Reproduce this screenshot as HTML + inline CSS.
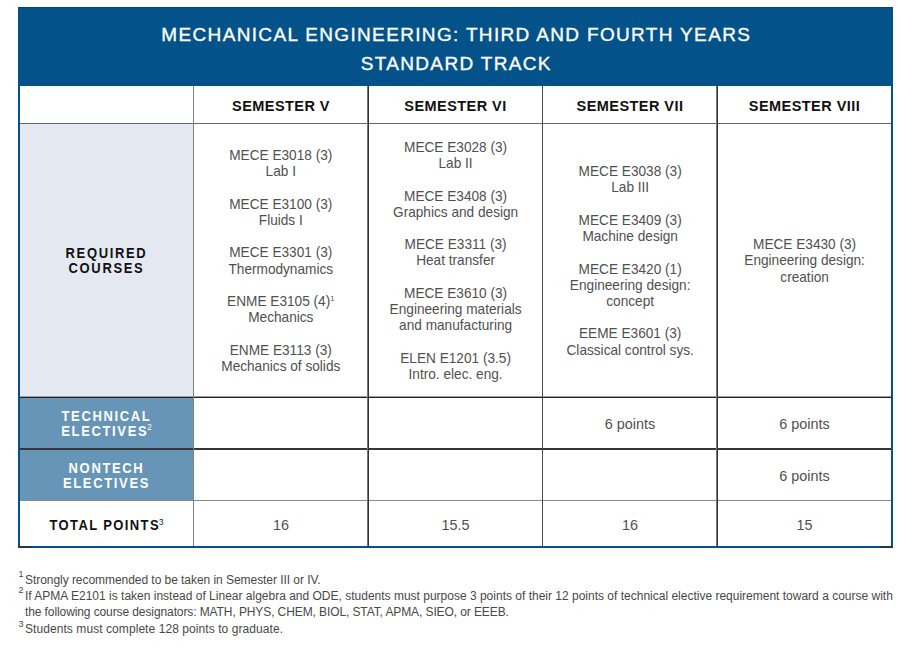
<!DOCTYPE html>
<html>
<head>
<meta charset="utf-8">
<style>
*{margin:0;padding:0;box-sizing:border-box}
html,body{width:900px;height:657px;background:#fff;overflow:hidden}
body{font-family:"Liberation Sans",sans-serif;position:relative;color:#3a3a3a}
.abs{position:absolute}
#frame{left:18px;top:7px;width:875px;height:541px;border:2px solid #03518a;border-top:0}
#head{left:18px;top:7px;width:875px;height:79px;background:#03528a}
.title{position:absolute;left:0.8px;width:100%;text-align:center;color:#fff;font-size:19px;letter-spacing:1.34px;white-space:nowrap;-webkit-text-stroke:0.35px #fff;line-height:20px}
.vl{position:absolute;width:1px;background:#333;top:86px;height:460px}
.hl{position:absolute;height:1px;background:#333;left:20px;width:871px}
.cell{position:absolute;display:flex;align-items:center;justify-content:center;text-align:center}
.sem{font-weight:bold;font-size:14.5px;color:#111;letter-spacing:0.45px}
.body{font-size:14.4px;line-height:16.2px;color:#505050}
.body>div{transform:scaleX(0.948)}
.lbl{font-weight:bold;font-size:13px;line-height:13.55px;letter-spacing:1.65px}
.lbl>div{transform:scaleY(1.07)}
.s{margin-left:-1px;font-size:8px;font-weight:normal;vertical-align:5px;line-height:0;letter-spacing:0}
.fn{position:absolute;left:25px;font-size:12px;color:#484848;white-space:nowrap;line-height:16px}
.fn sup{position:absolute;left:-6.5px;top:-5.5px;font-size:9px}
</style>
</head>
<body>
<div id="head" class="abs">
  <div class="title" style="top:18.4px">MECHANICAL ENGINEERING: THIRD AND FOURTH YEARS</div>
  <div class="title" style="top:47.2px">STANDARD TRACK</div>
</div>
<!-- left column backgrounds -->
<div class="abs" style="left:20px;top:124px;width:173px;height:273px;background:#e5e9f2"></div>
<div class="abs" style="left:20px;top:398px;width:173px;height:102px;background:#6795b7"></div>

<div id="frame" class="abs"></div>

<div class="abs" style="left:18px;top:7px;width:875px;height:1px;background:#0b4472"></div>
<div class="abs" style="left:18px;top:546px;width:14px;height:2px;background:#24384c"></div>
<div class="abs" style="left:880px;top:546px;width:13px;height:2px;background:#24384c"></div>
<!-- grid lines -->
<div class="hl" style="top:123px;background:#666"></div>
<div class="hl" style="top:396px;background:#a0a0a0"></div>
<div class="hl" style="top:397px;background:#222"></div>
<div class="hl" style="top:448px;height:2px;background:#363636"></div>
<div class="hl" style="top:500px;background:#888"></div>
<div class="vl" style="left:193px;background:#808080"></div>
<div class="vl" style="left:367px;background:#777"></div>
<div class="vl" style="left:368px;background:#333"></div>
<div class="vl" style="left:542px;background:#4a4a4a"></div>
<div class="vl" style="left:716px;background:#777"></div>
<div class="vl" style="left:717px;background:#333"></div>

<!-- header row -->
<div class="cell sem" style="left:194px;top:87px;width:174px;height:37px">SEMESTER V</div>
<div class="cell sem" style="left:369px;top:87px;width:173px;height:37px">SEMESTER VI</div>
<div class="cell sem" style="left:543px;top:87px;width:174px;height:37px">SEMESTER VII</div>
<div class="cell sem" style="left:718px;top:87px;width:173px;height:37px">SEMESTER VIII</div>

<!-- required courses -->
<div class="cell lbl" style="left:20px;top:124px;width:173px;height:273px;color:#111"><div>REQUIRED<br>COURSES</div></div>
<div class="cell body" style="left:194px;top:124px;width:174px;height:273px">
<div>MECE E3018 (3)<br>Lab I<br><br>MECE E3100 (3)<br>Fluids I<br><br>MECE E3301 (3)<br>Thermodynamics<br><br>ENME E3105 (4)<sup style="font-size:8px;vertical-align:5px;line-height:0">1</sup><br>Mechanics<br><br>ENME E3113 (3)<br>Mechanics of solids</div>
</div>
<div class="cell body" style="left:369px;top:124px;width:173px;height:273px">
<div>MECE E3028 (3)<br>Lab II<br><br>MECE E3408 (3)<br>Graphics and design<br><br>MECE E3311 (3)<br>Heat transfer<br><br>MECE E3610 (3)<br>Engineering materials<br>and manufacturing<br><br>ELEN E1201 (3.5)<br>Intro. elec. eng.</div>
</div>
<div class="cell body" style="left:543px;top:124px;width:174px;height:273px">
<div>MECE E3038 (3)<br>Lab III<br><br>MECE E3409 (3)<br>Machine design<br><br>MECE E3420 (1)<br>Engineering design:<br>concept<br><br>EEME E3601 (3)<br>Classical control sys.</div>
</div>
<div class="cell body" style="left:718px;top:124px;width:173px;height:273px">
<div>MECE E3430 (3)<br>Engineering design:<br>creation</div>
</div>

<!-- technical electives -->
<div class="cell lbl" style="left:20px;top:398px;width:173px;height:51px;color:#fff"><div>TECHNICAL<br>ELECTIVES<sup class="s">2</sup></div></div>
<div class="cell body" style="left:543px;top:399px;width:174px;height:51px"><div style="transform:none">6 points</div></div>
<div class="cell body" style="left:718px;top:399px;width:173px;height:51px"><div style="transform:none">6 points</div></div>

<!-- nontech -->
<div class="cell lbl" style="left:20px;top:451px;width:173px;height:50px;color:#fff"><div>NONTECH<br>ELECTIVES</div></div>
<div class="cell body" style="left:718px;top:451px;width:173px;height:50px"><div style="transform:none">6 points</div></div>

<!-- total -->
<div class="cell lbl" style="left:20px;top:503px;width:173px;height:45px;color:#111"><div style="letter-spacing:1.38px">TOTAL POINTS<sup class="s">3</sup></div></div>
<div class="cell body" style="left:194px;top:503px;width:174px;height:45px"><div style="transform:none">16</div></div>
<div class="cell body" style="left:369px;top:503px;width:173px;height:45px"><div style="transform:none">15.5</div></div>
<div class="cell body" style="left:543px;top:503px;width:174px;height:45px"><div style="transform:none">16</div></div>
<div class="cell body" style="left:718px;top:503px;width:173px;height:45px"><div style="transform:none">15</div></div>

<!-- footnotes -->
<div class="fn" style="top:571.5px;letter-spacing:-0.05px"><sup>1</sup>Strongly recommended to be taken in Semester III or IV.</div>
<div class="fn" style="top:587.8px"><sup>2</sup>If APMA E2101 is taken instead of Linear algebra and ODE, students must purpose 3 points of their 12 points of technical elective requirement toward a course with</div>
<div class="fn" style="top:604px;letter-spacing:-0.1px">the following course designators: MATH, PHYS, CHEM, BIOL, STAT, APMA, SIEO, or EEEB.</div>
<div class="fn" style="top:621px;letter-spacing:0.07px"><sup>3</sup>Students must complete 128 points to graduate.</div>
</body>
</html>
